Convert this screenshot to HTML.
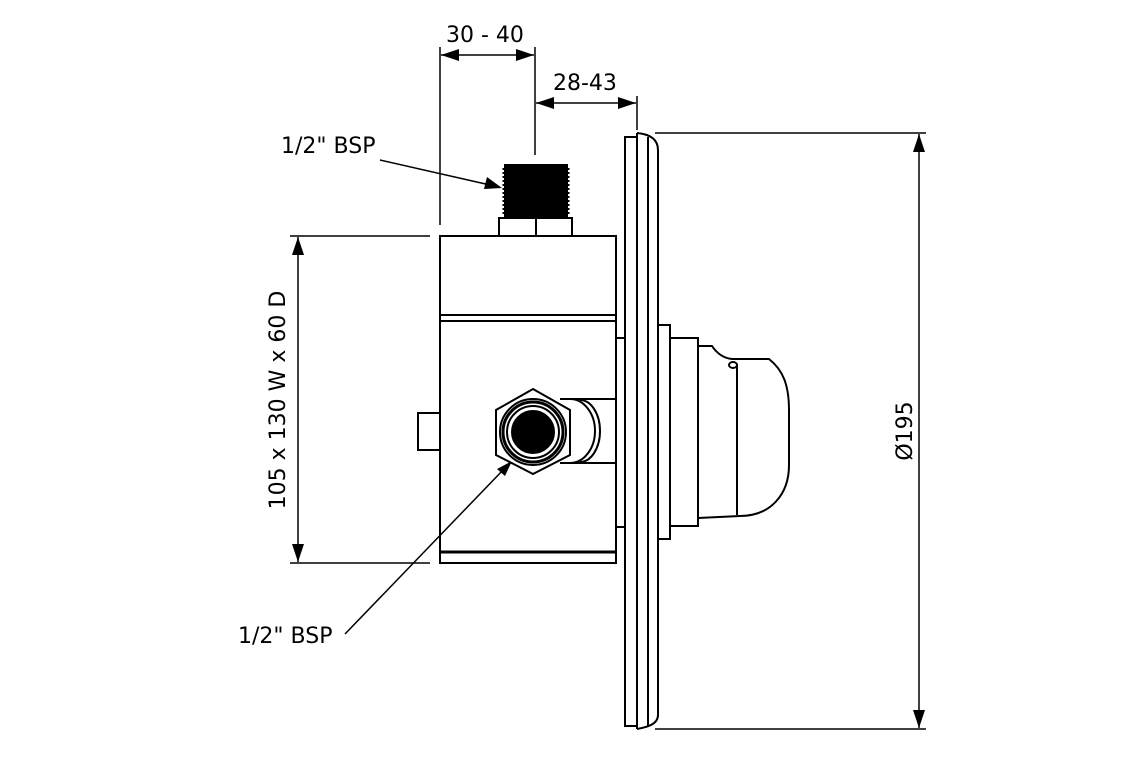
<!DOCTYPE html>
<html><head><style>body{margin:0;background:#fff}svg{display:block}text{font-family:"DejaVu Sans","Liberation Sans",sans-serif;font-size:22px;fill:#000}</style></head><body>
<svg width="1140" height="760" viewBox="0 0 1140 760" xmlns="http://www.w3.org/2000/svg">
<g stroke="#000" stroke-width="1.5" fill="none">
<line x1="440" y1="47" x2="440" y2="225"/><line x1="535" y1="47" x2="535" y2="155"/>
<line x1="441" y1="55" x2="534" y2="55"/>
<line x1="637" y1="96" x2="637" y2="130"/>
<line x1="536" y1="103" x2="636" y2="103"/>
<line x1="290" y1="236" x2="430" y2="236"/><line x1="290" y1="563" x2="430" y2="563"/>
<line x1="298" y1="237" x2="298" y2="562"/>
<line x1="655" y1="133" x2="926" y2="133"/><line x1="655" y1="729" x2="926" y2="729"/>
<line x1="919" y1="134" x2="919" y2="728"/>
<line x1="380" y1="160" x2="490" y2="185"/>
<line x1="345" y1="634" x2="505" y2="468"/>
</g>
<g fill="#000">
<path d="M441,55l18,-6v12z"/><path d="M534,55l-18,-6v12z"/>
<path d="M536,103l18,-6v12z"/><path d="M636,103l-18,-6v12z"/>
<path d="M298,237l-6,18h12z"/><path d="M298,562l-6,-18h12z"/>
<path d="M919,134l-6,18h12z"/><path d="M919,728l-6,-18h12z"/>
<path d="M502,188L484,189L487,177Z"/>
<path d="M512,461L497,469L505,476Z"/>
</g>
<g stroke="#000" stroke-width="2" fill="none">
<rect x="440" y="236" width="176" height="327"/>
<line x1="440" y1="315" x2="616" y2="315"/><line x1="440" y1="321" x2="616" y2="321"/>
<line x1="440" y1="552" x2="616" y2="552" stroke-width="3"/>
<rect x="418" y="413" width="22" height="37"/>
<rect x="616" y="338" width="9" height="189"/>
<path d="M560,399H616M560,463H616"/>
<path d="M570,399A25,32 0 0 1 570,463"/>
<path d="M580,400A20,31 0 0 1 580,462"/>
<path d="M533,389L570,410L570,455L533,474L496,455L496,410Z" fill="#fff"/>
<circle cx="533" cy="432" r="33" fill="#fff"/>
<circle cx="533" cy="432" r="30" stroke-width="3"/>
<circle cx="533" cy="432" r="26"/>
<circle cx="533" cy="432" r="21" fill="#000"/>
<rect x="499" y="218" width="73" height="18"/><line x1="536" y1="218" x2="536" y2="236"/>
<rect x="625" y="137" width="12" height="589"/>
<path d="M637,133V729M648,137V727"/>
<path d="M637,133C648,134 658,138 658,150V715C658,724 648,727 637,729"/>
<rect x="658" y="325" width="12" height="214"/>
<rect x="670" y="338" width="28" height="188"/>
<path d="M698,346H712C716,352 722,358 732,359L769,359C783,370 789,385 789,410V465C789,495 770,516 740,516L698,518"/>
<line x1="737" y1="364" x2="737" y2="515"/>
<ellipse cx="733" cy="365" rx="4" ry="3"/>
</g>
<rect x="504" y="164" width="64" height="54" fill="#000"/>
<path d="M504,168v46M568,168v46" stroke="#000" stroke-width="3" stroke-dasharray="2 2"/>
<text x="446" y="42">30 - 40</text>
<text x="553" y="90">28-43</text>
<text x="281" y="153">1/2" BSP</text>
<text x="238" y="643">1/2" BSP</text>
<text transform="translate(285,400) rotate(-90)" text-anchor="middle">105 x 130 W x 60 D</text>
<text transform="translate(912,431) rotate(-90)" text-anchor="middle">Ø195</text>
</svg>
</body></html>
